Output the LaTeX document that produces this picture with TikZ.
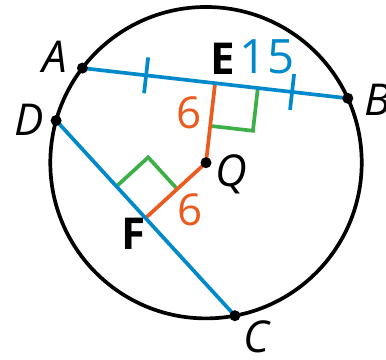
\documentclass[tikz,border=0pt]{standalone}
\usepackage{fontspec}
\setmainfont{Open Sans}
\usetikzlibrary{calc}
\definecolor{chordblue}{RGB}{0,138,204}
\definecolor{segorange}{RGB}{235,90,30}
\definecolor{markgreen}{RGB}{60,175,70}

\begin{document}
\begin{tikzpicture}[x=2cm,y=2cm,
  chord/.style={chordblue,line width=2.1pt},
  seg/.style={segorange,line width=2.1pt},
  rmark/.style={markgreen,line width=2.1pt},
  ptname/.style={font=\fontsize{25}{28}\selectfont\itshape,inner sep=0pt},
  ftname/.style={font=\fontsize{25}{28}\selectfont\bfseries,inner sep=0pt},
  measure/.style={font=\fontsize{25}{28}\selectfont,inner sep=0pt}]
\useasboundingbox (0,0) rectangle (3.86,3.6);
\coordinate (Q) at (2.06,1.973);
\coordinate (E) at (2.151,2.768); \coordinate (F) at (1.455,1.419);
\coordinate (A) at (0.824,2.919); \coordinate (B) at (3.478,2.617);
\coordinate (D) at (0.561,2.395); \coordinate (C) at (2.349,0.443);
\draw[line width=2.1pt] (Q) circle (1.557);
\draw[rmark] ($(E)+(-6.5:0.43)$) -- ++(263.5:0.43) -- ++(173.5:0.43);
\draw[rmark] ($(F)+(132.5:0.43)$) -- ++(42.5:0.43) -- ++(-47.5:0.43);
\draw[seg] (E)--(Q)--(F);
\draw[chord] (A)--(B); \draw[chord] (D)--(C);
\draw[chord] ($(A)!0.24!(B)$) ++(83.5:0.18) -- ++(263.5:0.36);
\draw[chord] ($(A)!0.79!(B)$) ++(83.5:0.18) -- ++(263.5:0.36);
\foreach \p in {A,B,C,D,Q} \fill (\p) circle (0.055);
\node[ptname] (labA) at (0.55,3.03) {A};
\node[ptname,anchor=west] (labB) at (3.64,2.60) {B};
\node[ptname] (labC) at (2.56,0.235) {C};
\node[ptname] (labD) at (0.29,2.40) {D};
\node[ptname] (labQ) at (2.31,1.86) {Q};
\node[ftname] (labE) at (2.225,3.01) {E};
\node[ftname] (labF) at (1.34,1.26) {F};
\node[measure,chordblue,font=\fontsize{27}{30}\selectfont] (half) at (2.67,3.03) {15};
\node[measure,segorange] (distE) at (1.89,2.47) {6};
\node[measure,segorange] (distF) at (1.90,1.50) {6};
\end{tikzpicture}
\end{document}
